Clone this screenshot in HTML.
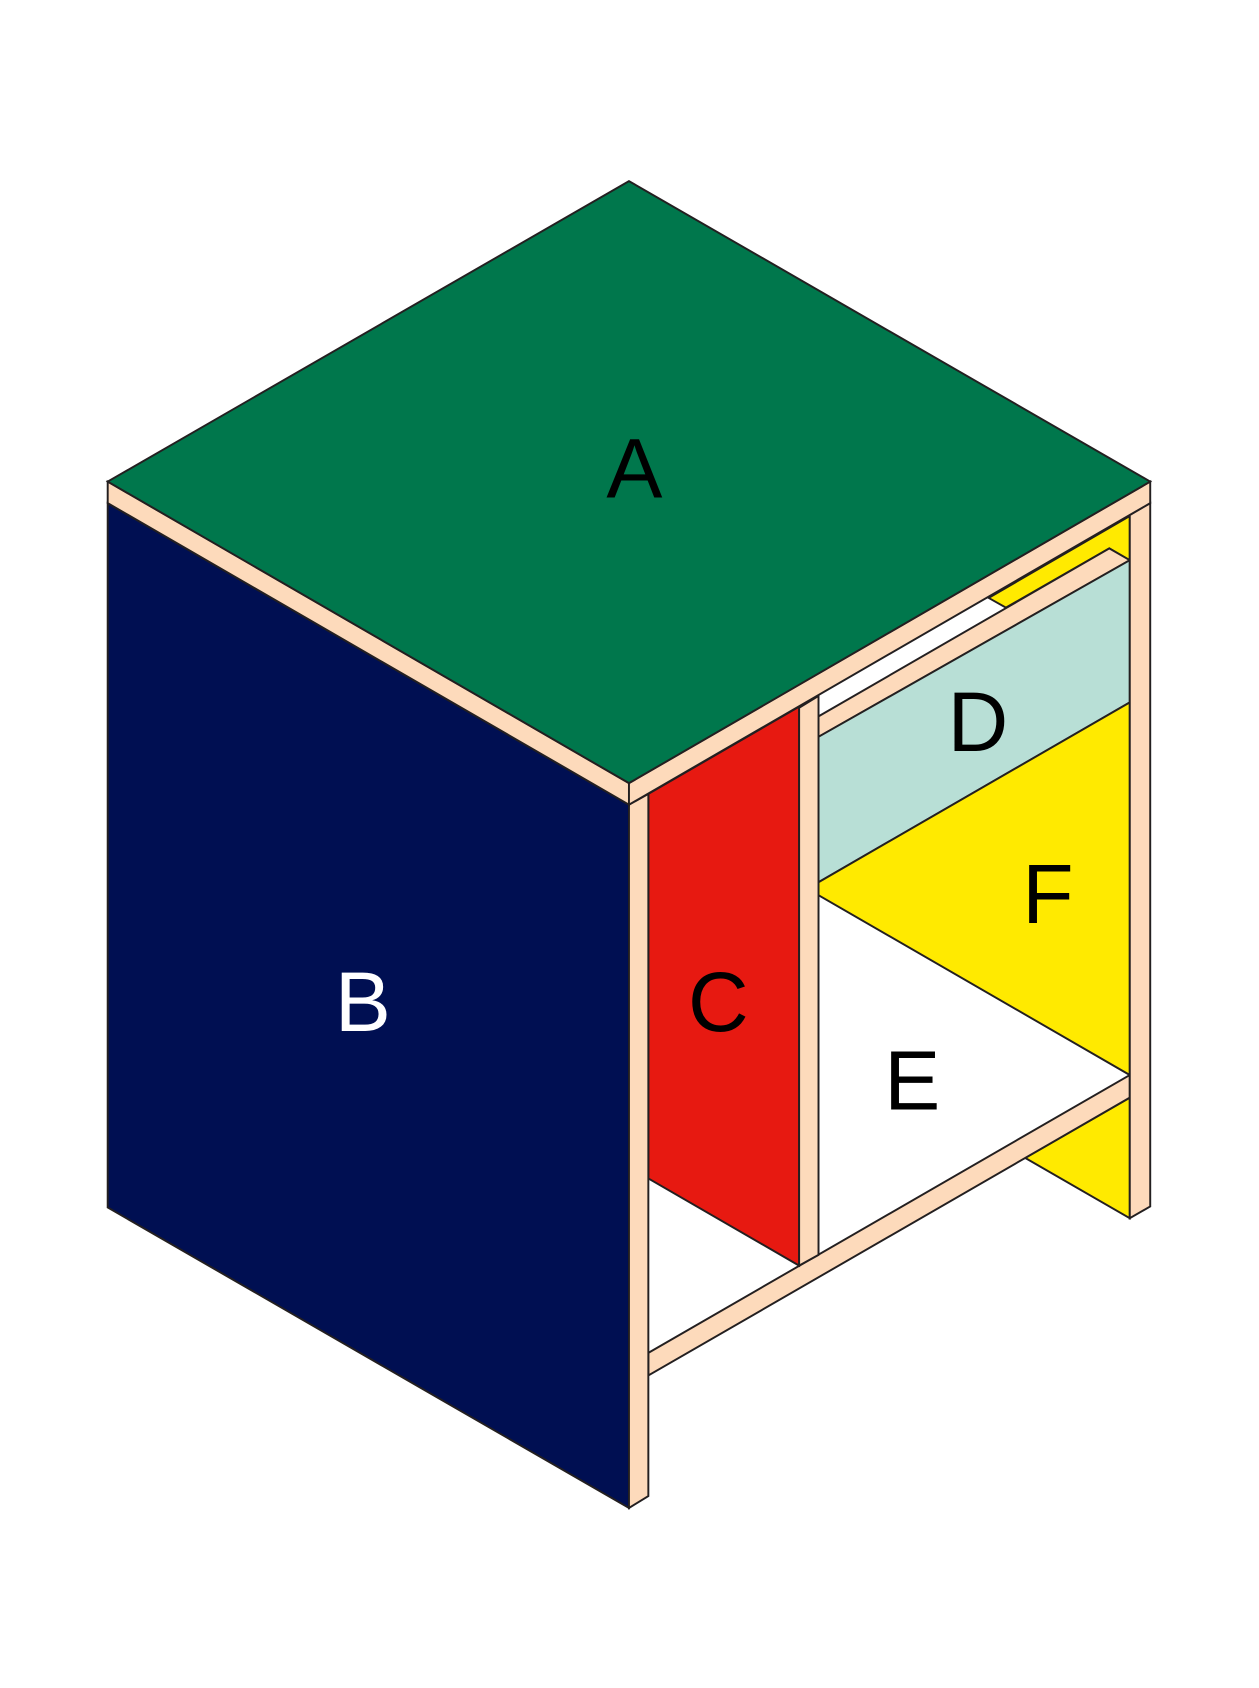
<!DOCTYPE html>
<html><head><style>html,body{margin:0;padding:0;background:#fff}svg{display:block}</style></head>
<body>
<svg width="1259" height="1688" viewBox="0 0 1169 1567" xmlns="http://www.w3.org/2000/svg">
<g stroke="#231f20" stroke-width="1.8" stroke-linejoin="miter">
<!-- back right pillar & lower yellow -->
<polygon points="952,1075 1049,1019 1049,1131" fill="#ffea00"/>
<!-- upper gap yellow -->
<polygon points="918,555 1049,479 1049,520 1030,509 934,564" fill="#ffea00"/>
<!-- rail -->
<polygon points="760,665 1030,509 1049,520 760,684" fill="#fddabb"/>
<!-- D -->
<polygon points="760,684 1049,520 1049,652 760,819" fill="#b8dfd6"/>
<!-- F -->
<polygon points="760,819 1049,652 1049,998 760,831" fill="#ffea00"/>
<!-- bottom rail -->
<polygon points="602,1256 1049,998 1049,1019 602,1277" fill="#fddabb"/>
<!-- back pillar -->
<polygon points="1049,478 1068,467 1068,1120 1049,1131" fill="#fddabb"/>
<!-- C -->
<polygon points="602,737 742,656 742,1175 602,1094" fill="#e71911"/>
<!-- middle pillar -->
<polygon points="742,657 760,646 760,1165 742,1175" fill="#fddabb"/>
<!-- B -->
<polygon points="100,467 584,747 584,1400 100,1121" fill="#000f52"/>
<!-- front pillar -->
<polygon points="584,747 602,737 602,1389 584,1400" fill="#fddabb"/>
<!-- top strips -->
<polygon points="100,447 584,727 584,747 100,467" fill="#fddabb"/>
<polygon points="584,727 1068,447 1068,467 584,747" fill="#fddabb"/>
<!-- A -->
<polygon points="100,447 584,168 1068,447 584,727" fill="#00774c"/>
</g>
<g font-family="Liberation Sans, sans-serif" font-size="78" text-anchor="middle">
<text x="589" y="462" fill="#000">A</text>
<text x="337" y="957" fill="#fff">B</text>
<text x="667" y="957" fill="#000">C</text>
<text x="908" y="697" fill="#000">D</text>
<text x="973" y="857" fill="#000">F</text>
<text x="847" y="1030" fill="#000">E</text>
</g>
</svg>
</body></html>
